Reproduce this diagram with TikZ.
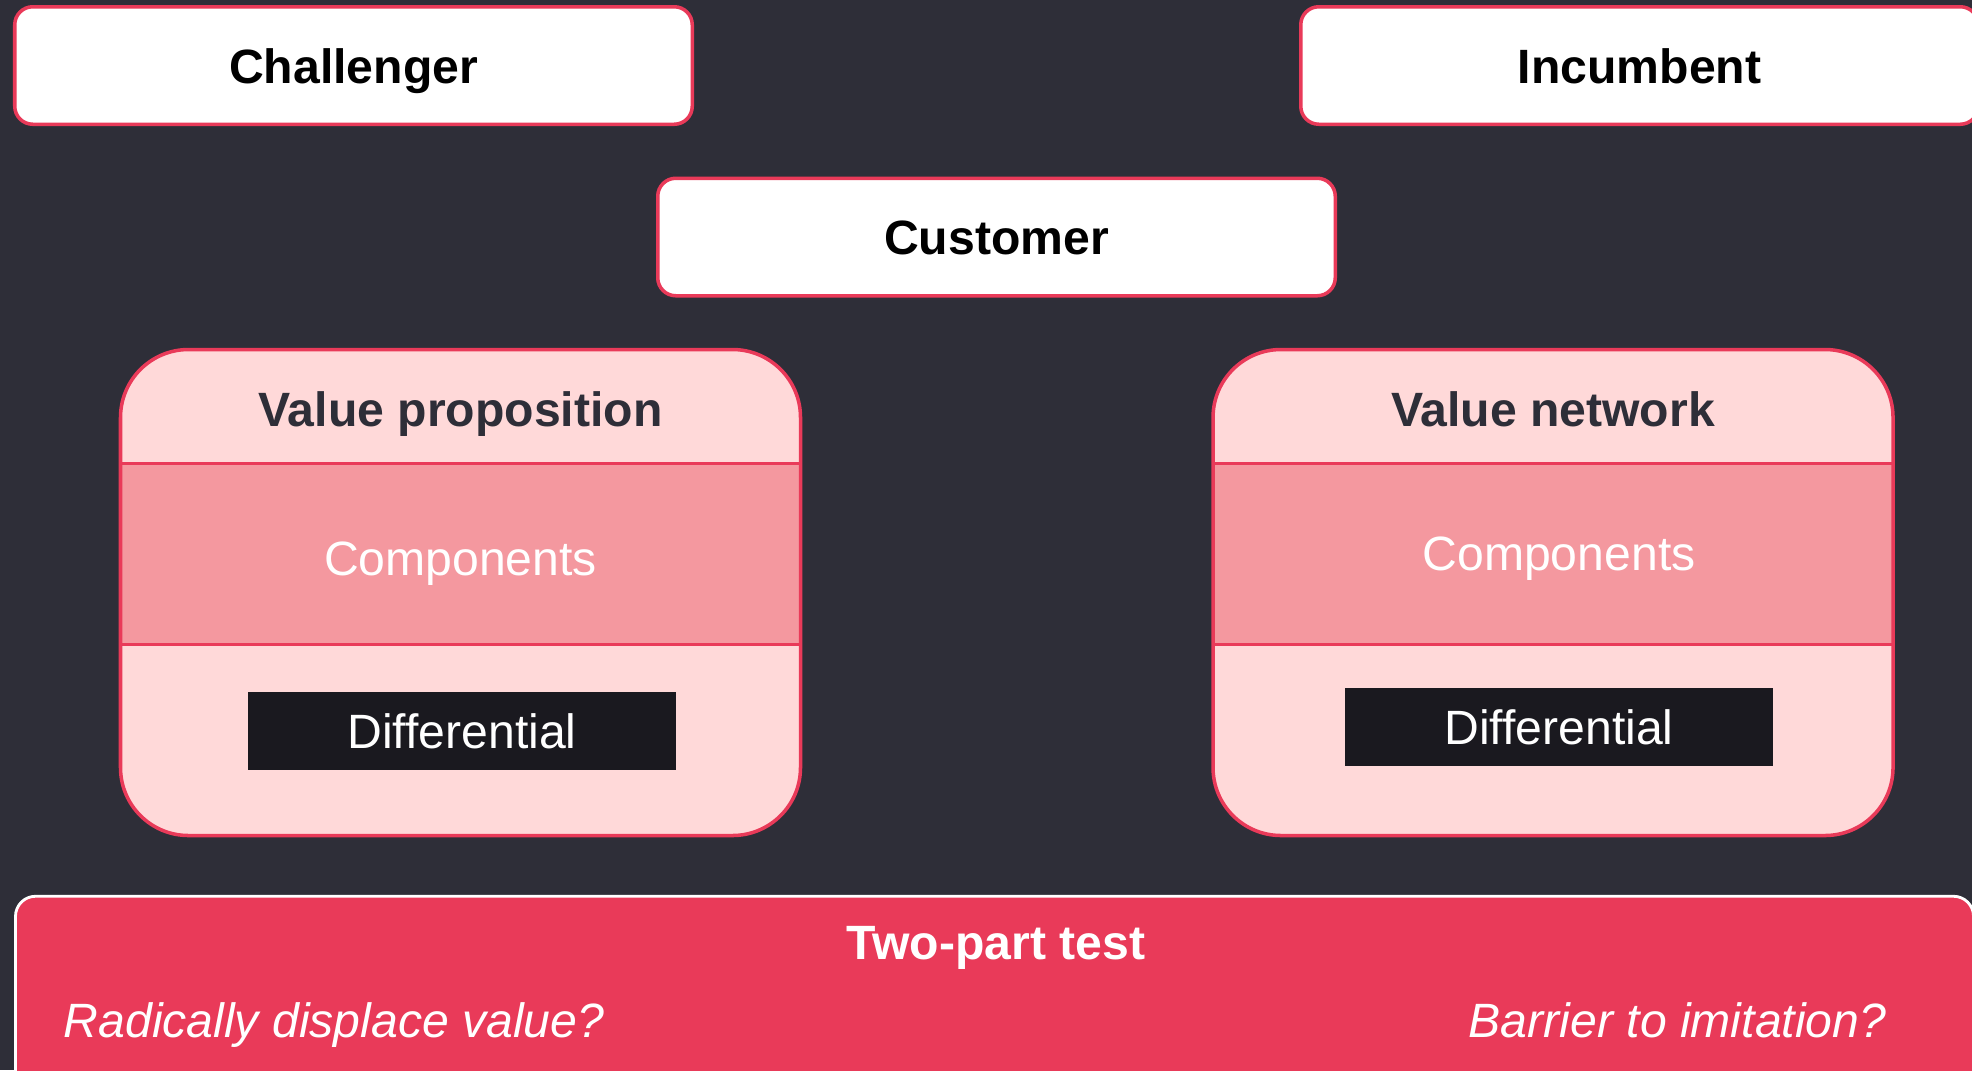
\documentclass[tikz,border=0pt]{standalone}
\usepackage{fontspec}
\setmainfont{Liberation Sans}
\usetikzlibrary{positioning}
\definecolor{slate}{HTML}{2E2E38}
\definecolor{accent}{HTML}{E93A59}
\definecolor{blush}{HTML}{FFD9D9}
\definecolor{rose}{HTML}{F4989F}
\definecolor{ink}{HTML}{1A191F}
\tikzset{
  txt/.style={font=\fontsize{13.7}{16}\selectfont, inner sep=0pt},
  actor/.style={draw=accent, fill=white, line width=1pt, rounded corners=0.18cm,
    minimum width=6.775cm, minimum height=1.175cm, text height=0.35cm, text depth=0pt,
    font=\fontsize{13.7}{16}\selectfont\bfseries},
  panel/.style={draw=accent, fill=blush, line width=1pt, rounded corners=0.68cm,
    minimum width=6.8cm, minimum height=4.86cm,
    path picture={
      \fill[rose, sharp corners] ([yshift=-1.14cm]path picture bounding box.north west)
        rectangle ([yshift=1.91cm]path picture bounding box.south east);
      \draw[accent, line width=0.6pt, sharp corners]
        ([yshift=-1.14cm]path picture bounding box.north west) -- ([yshift=-1.14cm]path picture bounding box.north east)
        ([yshift=1.91cm]path picture bounding box.south west) -- ([yshift=1.91cm]path picture bounding box.south east);
    }},
  head/.style={txt, text=slate, font=\fontsize{13.7}{16}\selectfont\bfseries},
  comp/.style={txt, text=white},
  diff/.style={fill=ink, text=white, minimum width=4.28cm, minimum height=0.78cm,
    font=\fontsize{13.7}{16}\selectfont},
  testbar/.style={draw=white, fill=accent, line width=0.8pt, rounded corners=0.2cm,
    minimum width=19.58cm, minimum height=2.035cm},
  verdict/.style={txt, text=white, font=\fontsize{13.7}{16}\selectfont\bfseries},
  question/.style={txt, text=white, font=\fontsize{13.7}{16}\selectfont\itshape},
}

\begin{document}
\begin{tikzpicture}
  \useasboundingbox (0,0) rectangle (19.72,-10.70);
  \fill[slate] (0,0) rectangle (19.72,-10.70);

  \node[actor] (chal) at (3.535,-0.655) {Challenger};
  \node[actor, right=6.05cm of chal] (inc) {Incumbent};
  \node[actor] (cust) at (9.965,-2.37) {Customer};

  \node[panel] (vp) at (4.605,-5.925) {};
  \node[panel, right=4.09cm of vp] (vn) {};

  \node[head, anchor=base] (vphead) at ([yshift=-0.79cm]vp.north) {Value proposition};
  \node[comp, anchor=base] (vpcomp) at ([yshift=-2.28cm]vp.north) {Components};
  \node[diff] (vpdiff) at ([xshift=0.015cm,yshift=-1.385cm]vp.center) {Differential};

  \node[head, anchor=base] (vnhead) at ([yshift=-0.79cm]vn.north) {Value network};
  \node[comp, anchor=base] (vncomp) at ([xshift=0.06cm,yshift=-2.23cm]vn.north) {Components};
  \node[diff] (vndiff) at ([xshift=0.06cm,yshift=-1.345cm]vn.center) {Differential};

  \node[testbar] (test) at (9.945,-9.98) {};
  \node[verdict, anchor=base] (testhead) at ([xshift=0.015cm,yshift=-0.645cm]test.north) {Two-part test};
  \node[question, anchor=base west] (displace) at (0.63,-10.37) {Radically displace value?};
  \node[question, anchor=base east] (imitation) at (18.87,-10.37) {Barrier to imitation?};
\end{tikzpicture}
\end{document}
